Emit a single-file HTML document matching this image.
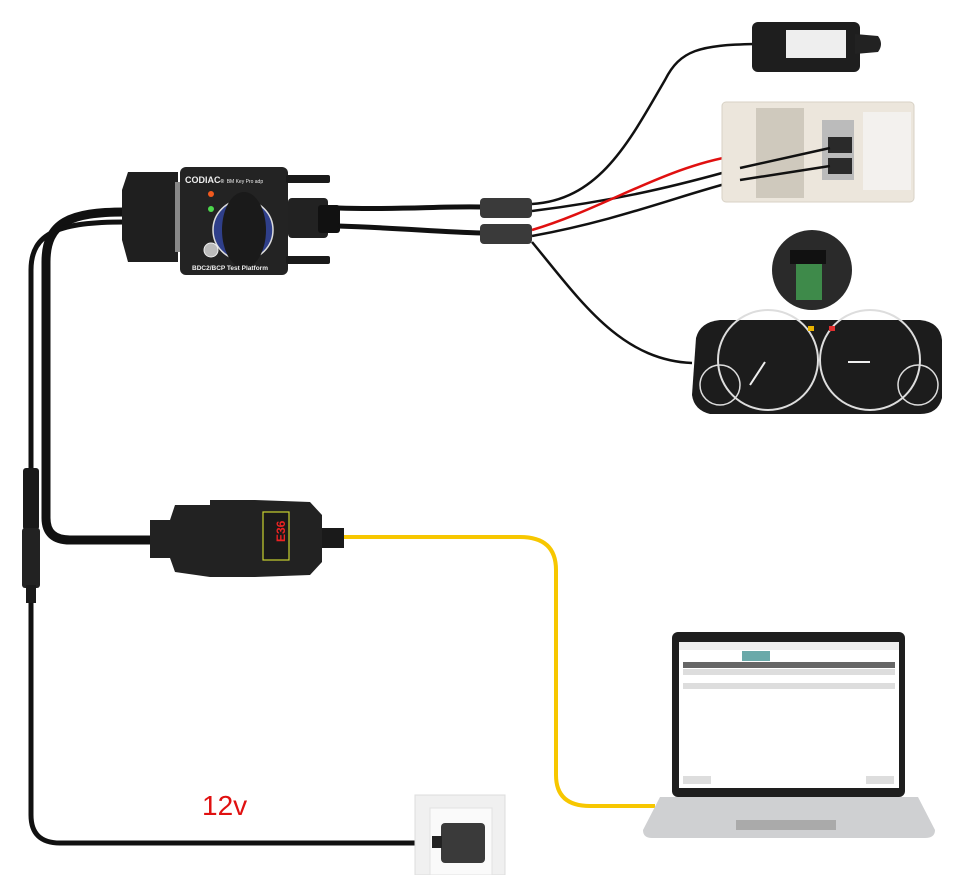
<!DOCTYPE html>
<html><head><meta charset="utf-8"><style>
html,body{margin:0;padding:0;background:#fff;width:960px;height:875px;overflow:hidden}
svg{display:block}
</style></head><body>
<svg width="960" height="875" viewBox="0 0 960 875" xmlns="http://www.w3.org/2000/svg" font-family="Liberation Sans, sans-serif">
<rect width="960" height="875" fill="#fff"/>
<!-- left cables -->
<path d="M125,212 C70,212 46,222 46,262 L46,518 Q46,540 70,540 L150,540" fill="none" stroke="#111" stroke-width="9"/>
<path d="M125,222 C60,222 31,232 31,270 L31,815 Q31,843 60,843 L440,843" fill="none" stroke="#111" stroke-width="5"/>
<!-- barrel connector -->
<rect x="23" y="468" width="16" height="62" rx="3" fill="#1a1a1a"/>
<rect x="22" y="528" width="18" height="60" rx="3" fill="#222"/>
<rect x="26" y="585" width="10" height="18" fill="#1a1a1a"/>
<!-- CODIAC -->
<path d="M128,172 L178,172 L178,262 L128,262 L122,240 L122,190 Z" fill="#1f1f1f"/>
<rect x="175" y="182" width="10" height="70" fill="#888"/>
<rect x="180" y="167" width="108" height="108" rx="6" fill="#232323"/>
<rect x="286" y="175" width="44" height="8" rx="2" fill="#1a1a1a"/>
<rect x="286" y="256" width="44" height="8" rx="2" fill="#1a1a1a"/>
<rect x="288" y="198" width="40" height="40" rx="4" fill="#222"/>
<rect x="318" y="205" width="22" height="28" rx="3" fill="#111"/>
<circle cx="243" cy="230" r="30" fill="#2f3f8a" stroke="#ddd" stroke-width="1.5"/>
<ellipse cx="244" cy="230" rx="22" ry="38" fill="#1a1a1a"/>
<circle cx="211" cy="194" r="3" fill="#f25a1e"/>
<circle cx="211" cy="209" r="3" fill="#4cd84c"/>
<circle cx="211" cy="250" r="7" fill="#bbb" stroke="#eee"/>
<text x="185" y="183" fill="#eee" font-size="9" font-weight="bold">CODIAC<tspan font-size="5">®</tspan> <tspan font-size="5" font-weight="normal">BM Key Pro adp</tspan></text>
<text x="192" y="270" fill="#eee" font-size="6.5" font-weight="bold">BDC2/BCP Test Platform</text>
<!-- cables to split -->
<path d="M338,208 C400,210 440,206 482,207" fill="none" stroke="#111" stroke-width="5"/>
<path d="M338,226 C400,228 440,232 482,233" fill="none" stroke="#111" stroke-width="5"/>
<rect x="480" y="198" width="52" height="20" rx="4" fill="#3a3a3a"/>
<rect x="480" y="224" width="52" height="20" rx="4" fill="#3a3a3a"/>
<path d="M532,204 C600,200 630,140 665,80 C680,50 700,45 755,44" fill="none" stroke="#111" stroke-width="2.5"/>
<path d="M532,211 C620,200 680,185 740,168" fill="none" stroke="#111" stroke-width="2.5"/>
<path d="M532,230 C600,210 660,170 728,157" fill="none" stroke="#e01010" stroke-width="2.5"/>
<path d="M532,236 C620,220 680,195 740,180" fill="none" stroke="#111" stroke-width="2.5"/>
<path d="M532,242 C580,300 620,360 692,363" fill="none" stroke="#111" stroke-width="2.5"/>
<!-- top module -->
<rect x="752" y="22" width="108" height="50" rx="6" fill="#1e1e1e"/>
<path d="M855,34 L878,36 Q884,44 878,52 L855,54 Z" fill="#222"/>
<rect x="786" y="30" width="60" height="28" fill="#eee"/>
<!-- BDC -->
<rect x="722" y="102" width="192" height="100" rx="4" fill="#ece6dc" stroke="#d8d2c6"/>
<rect x="756" y="108" width="48" height="90" fill="#cfc9bd"/>
<rect x="822" y="120" width="32" height="60" fill="#bbb"/>
<rect x="828" y="137" width="24" height="16" fill="#2a2a2a"/>
<rect x="828" y="158" width="24" height="16" fill="#2a2a2a"/>
<rect x="863" y="112" width="48" height="78" fill="#f3f1ee"/>
<path d="M740,168 L830,148 M740,180 L830,166" stroke="#111" stroke-width="2.5"/>
<!-- inset circle -->
<circle cx="812" cy="270" r="40" fill="#2a2a2a"/>
<rect x="796" y="258" width="26" height="42" fill="#3e8a4a"/>
<rect x="790" y="250" width="36" height="14" fill="#111"/>
<!-- cluster -->
<path d="M696,338 Q700,322 720,320 L920,320 Q940,322 942,340 L942,398 Q938,414 920,414 L710,414 Q694,410 692,395 Z" fill="#1c1c1c"/>
<circle cx="768" cy="360" r="50" fill="none" stroke="#ddd" stroke-width="2"/>
<circle cx="870" cy="360" r="50" fill="none" stroke="#ddd" stroke-width="2"/>
<circle cx="720" cy="385" r="20" fill="none" stroke="#ddd" stroke-width="1.5"/>
<circle cx="918" cy="385" r="20" fill="none" stroke="#ddd" stroke-width="1.5"/>
<line x1="848" y1="362" x2="870" y2="362" stroke="#eee" stroke-width="2"/>
<line x1="750" y1="385" x2="765" y2="362" stroke="#eee" stroke-width="2"/>
<rect x="808" y="326" width="6" height="5" fill="#e9b300"/><rect x="829" y="326" width="6" height="5" fill="#e03030"/>
<!-- middle OBD -->
<path d="M150,520 L170,520 L175,505 L210,505 L210,500 L255,500 L310,502 L322,515 L322,562 L310,575 L255,577 L210,577 L175,572 L170,558 L150,558 Z" fill="#222"/>
<rect x="263" y="512" width="26" height="48" fill="#1a1a1a" stroke="#c8d130" stroke-width="1.2"/>
<text x="270" y="545" fill="#e22" font-size="12" font-weight="bold" transform="rotate(-90 276 536)">E36</text>
<rect x="322" y="528" width="22" height="20" fill="#1a1a1a"/>
<!-- yellow cable -->
<path d="M344,537 L520,537 Q556,537 556,570 L556,775 Q556,806 590,806 L655,806" fill="none" stroke="#f7c700" stroke-width="4"/>
<!-- laptop -->
<rect x="672" y="632" width="233" height="165" rx="6" fill="#1e1e1e"/>
<rect x="679" y="642" width="220" height="146" fill="#fff"/>
<rect x="679" y="642" width="220" height="8" fill="#eee"/>
<rect x="742" y="651" width="28" height="10" fill="#6aa9a9"/>
<rect x="683" y="662" width="212" height="6" fill="#666"/>
<rect x="683" y="669" width="212" height="6" fill="#ddd"/>
<rect x="683" y="683" width="212" height="6" fill="#ddd"/>
<rect x="683" y="776" width="28" height="8" fill="#ddd"/>
<rect x="866" y="776" width="28" height="8" fill="#ddd"/>
<path d="M660,797 L918,797 L935,830 Q935,838 925,838 L652,838 Q643,838 643,830 Z" fill="#cfd0d2"/>
<rect x="736" y="820" width="100" height="10" fill="#aaa"/>
<!-- outlet & adapter -->
<rect x="415" y="795" width="90" height="80" fill="#f0f0f0" stroke="#ddd"/>
<rect x="430" y="808" width="62" height="67" fill="#fafafa" stroke="#e2e2e2"/>
<rect x="441" y="823" width="44" height="40" rx="4" fill="#3a3a3a"/>
<rect x="432" y="836" width="10" height="12" fill="#222"/>
<text x="202" y="815" fill="#e01010" font-size="28">12v</text>
</svg>
</body></html>
